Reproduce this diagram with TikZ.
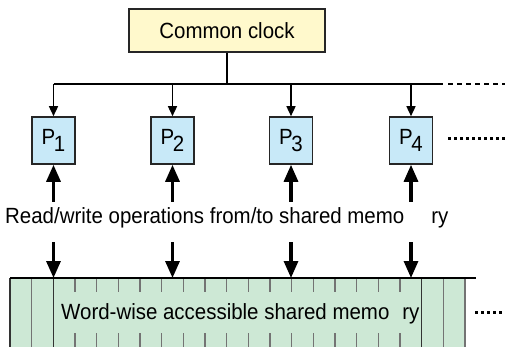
\documentclass[tikz,border=0pt]{standalone}
\usepackage{fontspec}
\setmainfont{Liberation Sans}[FakeStretch=0.93]
\usetikzlibrary{arrows.meta}

\definecolor{clockfill}{RGB}{255,249,204}
\definecolor{procfill}{RGB}{200,233,248}
\definecolor{memfill}{RGB}{205,232,213}

\begin{document}
\begin{tikzpicture}[x=1pt,y=-1pt,
    box/.style={draw=black!85,line width=1.6pt,inner sep=0pt},
    clk/.style={-{Triangle[length=10pt,width=9pt]},line width=1.5pt},
    rw/.style={-{Triangle[length=17pt,width=14pt]},line width=3.2pt},
    wordline/.style={draw=black!55,line width=1.2pt},
    every node/.style={font=\fontsize{22}{26}\selectfont}]
  \useasboundingbox (0,0) rectangle (505,347);

  %% The shared memory, cut off by the bottom edge.
  \fill[memfill] (10,278) rectangle (465,350);
  \def\cw{21.667}
  \foreach \k in {3,...,18} {
    \draw[wordline] (10+\k*\cw,278) -- (10+\k*\cw,292);
    \draw[wordline] (10+\k*\cw,333) -- (10+\k*\cw,350);
  }
  \foreach \k in {1,20,21}
    \draw[wordline] (10+\k*\cw,278) -- (10+\k*\cw,350);
  \foreach \k in {0,2,19}
    \draw[line width=1.3pt,black!80] (10+\k*\cw,278) -- (10+\k*\cw,350);
  \draw[line width=2pt] (10,278) -- (476,278);
  \node[anchor=base west,inner sep=0pt] (mem) at (61,319)
    {Word-wise accessible shared memo\hspace{13pt}ry};
  \draw[line width=3pt,dash pattern=on 3pt off 3pt] (475,312) -- (505,312);

  %% The clock and its bus.
  \node[box,fill=clockfill,minimum width=196pt,minimum height=43pt]
    (clock) at (227,30.5) {Common clock};
  \coordinate (bus) at (227,84);
  \draw[line width=1.5pt] (clock.south) -- (bus);

  \foreach \i/\px in {1/53.5,2/172.5,3/291,4/411} {
    \node[box,fill=procfill,minimum width=43pt,minimum height=47pt]
      (p\i) at (\px,140.5) {P\kern-1.5pt\raisebox{-7pt}{\i}};
    \coordinate (tap\i) at (\px,84);
    \draw[clk] (tap\i) -- (p\i.north);
    \coordinate (up\i) at (\px,202);
    \draw[rw] (up\i) -- (p\i.south);
    \coordinate (down\i) at (\px,242);
    \coordinate (word\i) at (\px,278);
    \draw[rw] (down\i) -- (word\i);
  }

  \coordinate (busend) at (443,84);
  \draw[line width=1.5pt] (tap1) -- (busend);
  \draw[line width=1.4pt,dash pattern=on 5pt off 4pt] (448,84) -- (505,84);
  \draw[line width=3pt,dash pattern=on 3pt off 3pt] (448,139) -- (505,139);

  \node[anchor=base west,inner sep=0pt] (ops) at (5,223)
    {Read/write operations from/to shared memo\hspace{27pt}ry};
\end{tikzpicture}
\end{document}
